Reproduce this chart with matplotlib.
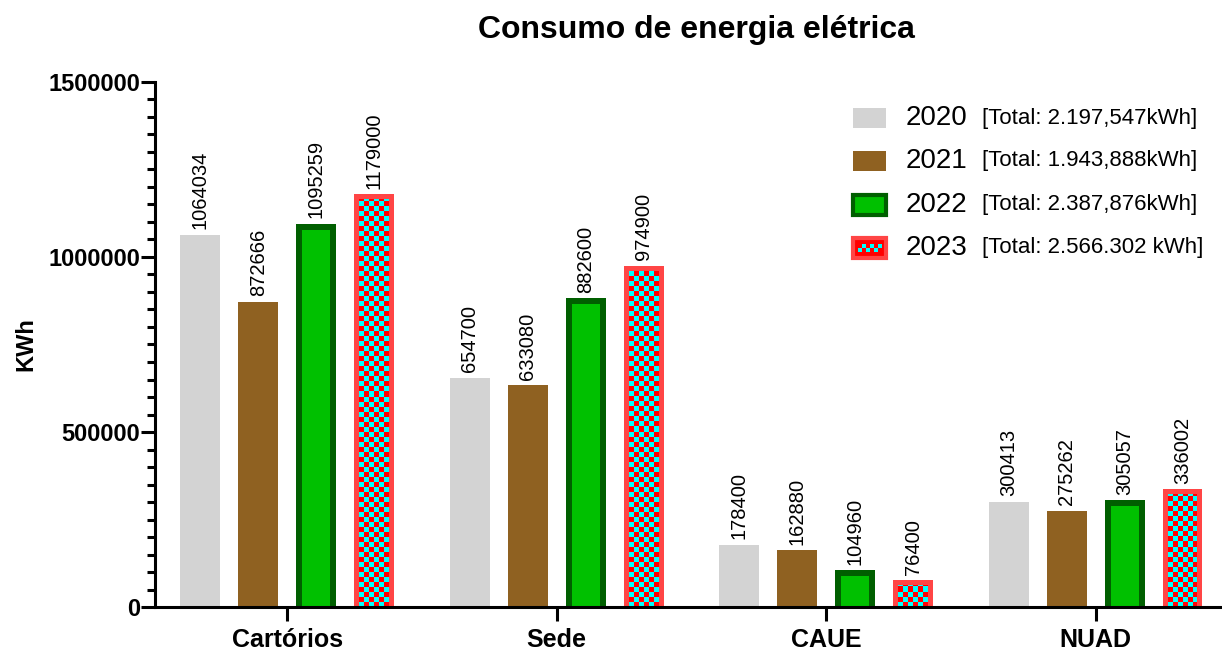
import numpy as np
import matplotlib
matplotlib.use('Agg')
import matplotlib.pyplot as plt
from matplotlib.colors import ListedColormap
from matplotlib.patches import Rectangle
from matplotlib.ticker import MultipleLocator, FuncFormatter

# --- Data ---
categories = ['Cartórios', 'Sede', 'CAUE', 'NUAD']
years = ['2020', '2021', '2022', '2023']
totals = ['[Total: 2.197,547kWh]', '[Total: 1.943,888kWh]',
          '[Total: 2.387,876kWh]', '[Total: 2.566.302 kWh]']
v2020 = [1064034, 654700, 178400, 300413]
v2021 = [872666, 633080, 162880, 275262]
v2022 = [1095259, 882600, 104960, 305057]
v2023 = [1179000, 974900, 76400, 336002]
series = [v2020, v2021, v2022, v2023]

plt.rcParams['font.family'] = ['Liberation Sans', 'DejaVu Sans']

fig = plt.figure(figsize=(12.22, 6.5), dpi=100)
ax = fig.add_axes([0.127, 0.066, 0.871, 0.808])

x = np.arange(len(categories))
step = 0.215
bar_w = 40 / 270
px2pt = 72 / 100
# bars with a border start a little below zero so the bottom border hides under the axis
below = 8 * 1500000 / 525

ax.set_xlim(-0.49, 3.46)
ax.set_ylim(0, 1500000)

offsets = [-1.5 * step, -0.5 * step, 0.5 * step, 1.5 * step]

bars_2023 = []
for i, vals in enumerate(series):
    xs = x + offsets[i]
    vals = np.array(vals)
    if i == 0:
        b = ax.bar(xs, vals, width=bar_w, color='#d3d3d3', zorder=2)
    elif i == 1:
        b = ax.bar(xs, vals, width=bar_w, color='#8f6121', zorder=2)
    elif i == 2:
        b = ax.bar(xs, vals + below, bottom=-below, width=bar_w, color='#00c000',
                   edgecolor='#005f00', linewidth=12 * px2pt, zorder=2)
        for r in b:
            # keep border inside the bar (axes clip box still applies)
            r.set_clip_path(r.get_path(), r.get_transform())
    else:
        b = ax.bar(xs, vals + below, bottom=-below, width=bar_w, facecolor='none',
                   edgecolor='#ff4545', linewidth=10 * px2pt, zorder=4)
        for r in b:
            r.set_clip_path(r.get_path(), r.get_transform())
        bars_2023 = b
    for xi, v in zip(xs, vals):
        ax.annotate(str(v), (xi, v), xytext=(0, 4), textcoords='offset points',
                    rotation=90, ha='center', va='bottom', fontsize=14.5)

# checkerboard fill for 2023 bars
checker_cmap = ListedColormap(['#ff0000', '#00ffff'])
sq_x = 5 / 270
sq_y = 5 * 1500000 / 525
for rect in bars_2023:
    x0 = rect.get_x()
    w = rect.get_width()
    top = rect.get_y() + rect.get_height()
    nx = int(np.ceil(w / sq_x))
    ny = int(np.ceil(top / sq_y))
    board = (np.add.outer(np.arange(ny), np.arange(nx)) % 2)
    im = ax.imshow(board, cmap=checker_cmap, origin='lower', aspect='auto',
                   extent=(x0, x0 + nx * sq_x, 0, ny * sq_y),
                   interpolation='nearest', zorder=3)
    im.set_clip_path(rect.get_path(), rect.get_transform())

ax.set_xlim(-0.49, 3.46)
ax.set_ylim(0, 1500000)

# axes styling
for s in ['top', 'right']:
    ax.spines[s].set_visible(False)
for s in ['left', 'bottom']:
    ax.spines[s].set_linewidth(2.2)
    ax.spines[s].set_zorder(6)
ax.set_xticks(x)
ax.set_xticklabels(categories, fontsize=18, fontweight='bold')
ax.yaxis.set_major_locator(MultipleLocator(500000))
ax.yaxis.set_minor_locator(MultipleLocator(50000))
ax.yaxis.set_major_formatter(FuncFormatter(lambda v, p: f'{int(v)}'))
for lab in ax.get_yticklabels():
    lab.set_fontsize(17)
    lab.set_fontweight('bold')
ax.tick_params(axis='y', which='major', length=10, width=2.2, pad=1)
ax.tick_params(axis='y', which='minor', length=6, width=2.2)
ax.tick_params(axis='x', which='major', length=10, width=2.2, pad=5)
ax.set_ylabel('KWh', fontsize=17, fontweight='bold', labelpad=8)

fig.text(0.57, 0.954, 'Consumo de energia elétrica', ha='center', va='center',
         fontsize=23, fontweight='bold')

# manual legend
leg_y = [0.931, 0.850, 0.766, 0.684]
px_x = 1 / 1065
px_y = 1 / 525
lx0, lw, lh = 0.656, 33 * px_x, 20 * px_y
leg_styles = [dict(facecolor='#d3d3d3', edgecolor='none'),
              dict(facecolor='#8f6121', edgecolor='none'),
              dict(facecolor='#00c000', edgecolor='#005f00', linewidth=3),
              dict(facecolor='#ff0000', edgecolor='#ff4545', linewidth=3)]
for yy, yr, tot, st in zip(leg_y, years, totals, leg_styles):
    ax.add_patch(Rectangle((lx0, yy - lh / 2), lw, lh, transform=ax.transAxes,
                           clip_on=False, zorder=5, **st))
    ax.text(0.705, yy, yr, transform=ax.transAxes, fontsize=20, va='center', ha='left')
    ax.text(0.777, yy, tot, transform=ax.transAxes, fontsize=16, va='center', ha='left')

# small checker inside the 2023 legend swatch
yy = leg_y[3]
for cx in range(6):
    for cy in range(2):
        if (cx + cy) % 2 == 0:
            ax.add_patch(Rectangle((lx0 + (5 + cx * 4) * px_x, yy - 4 * px_y + cy * 4 * px_y),
                                   4 * px_x, 4 * px_y, transform=ax.transAxes,
                                   facecolor='#00ffff', edgecolor='none',
                                   clip_on=False, zorder=6))

fig.savefig('out.png', dpi=100)
plt.close(fig)
